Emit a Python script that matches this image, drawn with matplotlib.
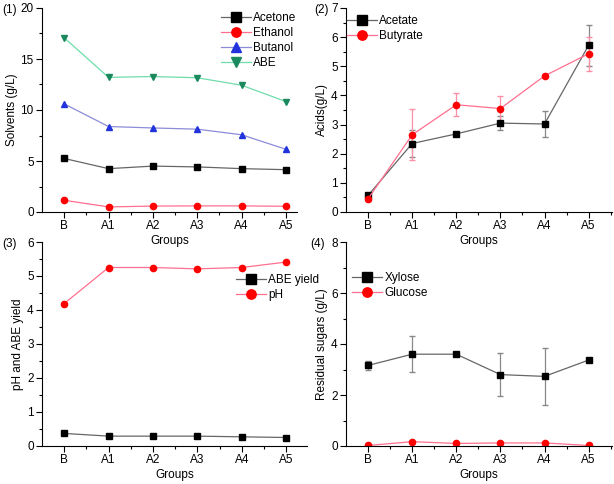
import numpy as np
import matplotlib.pyplot as plt
from matplotlib.ticker import MultipleLocator, FixedLocator

plt.rcParams['font.family'] = ['Liberation Sans', 'DejaVu Sans']
plt.rcParams['font.size'] = 8.5

groups = ['B', 'A1', 'A2', 'A3', 'A4', 'A5']

# (1) solvents
acetone = [5.25, 4.25, 4.5, 4.42, 4.25, 4.15]
ethanol = [1.15, 0.5, 0.58, 0.6, 0.6, 0.56]
butanol = [10.6, 8.38, 8.24, 8.12, 7.57, 6.15]
abe = [17.08, 13.2, 13.28, 13.16, 12.43, 10.83]

# (2) acids
acetate = [0.57, 2.35, 2.68, 3.05, 3.02, 5.72]
acetate_err = [0.05, 0.46, 0.05, 0.25, 0.46, 0.7]
butyrate = [0.45, 2.65, 3.68, 3.55, 4.67, 5.43]
butyrate_err = [0.08, 0.87, 0.39, 0.43, 0.05, 0.58]

# (3) pH and yield
abe_yield = [0.37, 0.29, 0.29, 0.29, 0.27, 0.25]
ph = [4.19, 5.25, 5.25, 5.21, 5.25, 5.41]

# (4) residual sugars
xylose = [3.16, 3.6, 3.6, 2.8, 2.73, 3.37]
xylose_err = [0.18, 0.7, 0.05, 0.84, 1.11, 0.05]
glucose = [0.02, 0.17, 0.1, 0.12, 0.12, 0.02]

W, H = 614, 484
fig = plt.figure(figsize=(W / 100, H / 100), dpi=100)


def make_ax(l, r, t, b):
    ax = fig.add_axes([l / W, 1 - b / H, (r - l) / W, (b - t) / H])
    ax.set_facecolor('none')
    return ax


def style(ax, ymax, ymaj, ymin, xr):
    x = np.arange(len(groups))
    ax.set_xlim(-0.5, xr)
    ax.set_ylim(0, ymax)
    ax.set_xticks(x)
    ax.set_xticklabels(groups)
    ax.xaxis.set_minor_locator(FixedLocator(np.arange(0.5, xr, 1)))
    ax.yaxis.set_major_locator(MultipleLocator(ymaj))
    ax.yaxis.set_minor_locator(MultipleLocator(ymin))
    ax.spines['top'].set_visible(False)
    ax.spines['right'].set_visible(False)
    ax.tick_params(which='major', direction='out', length=4, width=0.8, pad=2)
    ax.tick_params(which='minor', direction='out', length=2, width=0.8)
    ax.set_xlabel('Groups', labelpad=2)


def leg(ax, handles, labels, x, y):
    ax.legend(handles, labels, loc='upper left', bbox_to_anchor=(x / W, 1 - y / H),
              bbox_transform=fig.transFigure,
              frameon=False, handlelength=2.5, handletextpad=0.25, borderpad=0, borderaxespad=0,
              labelspacing=0.25, markerscale=1.5)


x = np.arange(len(groups))
ms = 4.5

ax1 = make_ax(42, 297, 8, 212)
h1 = ax1.plot(x, acetone, color='#666666', lw=0.9, marker='s', mfc='black', mec='black', ms=ms)
h2 = ax1.plot(x, ethanol, color='#ff6f8f', lw=0.9, marker='o', mfc='red', mec='red', ms=ms)
h3 = ax1.plot(x, butanol, color='#8c8cd8', lw=0.9, marker='^', mfc='#2233dd', mec='#2233dd', ms=ms)
h4 = ax1.plot(x, abe, color='#6fdcaa', lw=0.9, marker='v', mfc='#1a8a5e', mec='#1a8a5e', ms=ms)
style(ax1, 20, 5, 2.5, 5.25)
ax1.set_ylabel('Solvents (g/L)', labelpad=2)
leg(ax1, h1 + h2 + h3 + h4, ['Acetone', 'Ethanol', 'Butanol', 'ABE'], 221, 12)

ax2 = make_ax(346, 612, 8, 212)
e1 = ax2.errorbar(x, acetate, yerr=acetate_err, color='#666666', ecolor='#888888', elinewidth=0.9, capsize=2,
                  lw=0.9, marker='s', mfc='black', mec='black', ms=ms)
e2 = ax2.errorbar(x, butyrate, yerr=butyrate_err, color='#ff6f8f', ecolor='#ff8fa5', elinewidth=0.9, capsize=2,
                  lw=0.9, marker='o', mfc='red', mec='red', ms=ms)
style(ax2, 7, 1, 0.5, 5.53)
ax2.set_ylabel('Acids(g/L)', labelpad=2)
leg(ax2, [e1[0], e2[0]], ['Acetate', 'Butyrate'], 347, 15)

ax3 = make_ax(42, 307, 242, 446)
y1 = ax3.plot(x, abe_yield, color='#666666', lw=0.9, marker='s', mfc='black', mec='black', ms=ms)
y2 = ax3.plot(x, ph, color='#ff6f8f', lw=0.9, marker='o', mfc='red', mec='red', ms=ms)
style(ax3, 6, 1, 0.5, 5.47)
ax3.set_ylabel('pH and ABE yield', labelpad=2)
leg(ax3, y1 + y2, ['ABE yield', 'pH'], 236, 274)

ax4 = make_ax(346, 612, 242, 446)
s1 = ax4.errorbar(x, xylose, yerr=xylose_err, color='#666666', ecolor='#888888', elinewidth=0.9, capsize=2,
                  lw=0.9, marker='s', mfc='black', mec='black', ms=ms)
s2 = ax4.plot(x, glucose, color='#ff6f8f', lw=0.9, marker='o', mfc='red', mec='red', ms=ms)
style(ax4, 8, 2, 1, 5.53)
ax4.set_ylabel('Residual sugars (g/L)', labelpad=2)
leg(ax4, [s1[0]] + s2, ['Xylose', 'Glucose'], 352, 272)

for lab, px, py in [('(1)', 2, 10), ('(2)', 314, 10), ('(3)', 2, 244), ('(4)', 310, 244)]:
    fig.text(px / W, 1 - py / H, lab, ha='left', va='center')

fig.savefig('out.png', dpi=100)
